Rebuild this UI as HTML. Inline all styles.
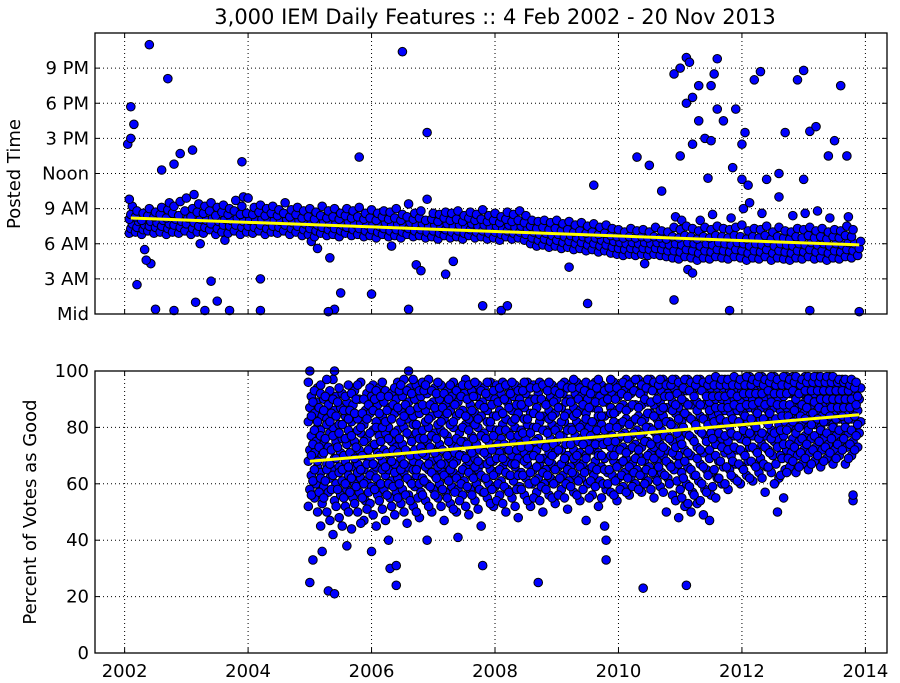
<!DOCTYPE html>
<html><head><meta charset="utf-8"><style>
html,body{margin:0;padding:0;background:#fff;}
svg{display:block;font-family:"DejaVu Sans","Liberation Sans",sans-serif;}
</style></head><body>
<svg id="chart" width="900" height="683" viewBox="0 0 900 683">
<text x="495" y="24" text-anchor="middle" font-size="21">3,000 IEM Daily Features :: 4 Feb 2002 - 20 Nov 2013</text>
<text transform="translate(20,174) rotate(-90)" text-anchor="middle" font-size="18">Posted Time</text>
<text transform="translate(36,512) rotate(-90)" text-anchor="middle" font-size="18">Percent of Votes as Good</text>
<g id="top"></g>
<g id="bot"></g>
</svg>
<script>
const xTicks=[2002,2004,2006,2008,2010,2012,2014];
const topTickVals=[0,3,6,9,12,15,18,21];
const topTickLabels=["Mid","3 AM","6 AM","9 AM","Noon","3 PM","6 PM","9 PM"];
const botTickVals=[0,20,40,60,80,100];
const botTickLabels=["0","20","40","60","80","100"];
const topTrend=[[2002.1,8.2],[2013.9,5.9]];
const botTrend=[[2005.0,68],[2013.9,84.5]];
const topBand=[
[2002.1,[6.9,7.3,7.7,8.1,8.5,9.2,9.8]],[2002.2,[7.0,7.4,7.9,8.3,8.8]],[2002.3,[6.8,7.2,7.6,8.0,8.6,5.5]],[2002.4,[7.1,7.5,7.9,8.4,9.0,4.3]],
[2002.5,[6.9,7.4,7.8,8.3,8.7]],[2002.6,[7.0,7.5,8.0,8.5,9.1]],[2002.7,[6.8,7.3,7.7,8.2,8.9,9.5]],[2002.8,[7.0,7.6,8.1,8.6,9.2]],
[2002.9,[6.9,7.4,7.9,8.4,9.6]],[2003.0,[7.1,7.7,8.2,8.8,9.9]],[2003.1,[6.8,7.3,7.8,8.3,9.0,10.2]],[2003.2,[7.0,7.5,8.1,8.7,9.4,6.0]],
[2003.3,[6.9,7.4,8.0,8.6,9.2]],[2003.4,[7.2,7.7,8.2,8.8,9.5]],[2003.5,[6.8,7.3,7.9,8.4,9.1]],[2003.6,[7.0,7.6,8.1,8.7,9.3,6.3]],
[2003.7,[6.9,7.5,8.0,8.5,9.0]],[2003.8,[7.1,7.6,8.2,8.8,9.7]],[2003.9,[6.8,7.4,7.9,8.5,9.2,10.0]],[2004.0,[7.0,7.5,8.0,8.6,9.9]],
[2004.1,[6.9,7.4,8.0,8.5,9.1]],[2004.2,[7.1,7.6,8.1,8.7,9.3]],[2004.3,[6.8,7.3,7.9,8.4,9.0]],[2004.4,[7.0,7.5,8.0,8.6,9.2]],
[2004.5,[6.9,7.4,7.9,8.4,8.9]],[2004.6,[7.1,7.6,8.1,8.6,9.5]],[2004.7,[6.8,7.3,7.8,8.3,8.9]],[2004.8,[7.0,7.5,8.0,8.5,9.1]],
[2004.9,[6.7,7.2,7.7,8.2,8.8]],[2005.0,[6.8,7.3,7.8,8.3,9.0,6.2]],[2005.1,[6.6,7.1,7.6,8.1,8.7,5.6]],[2005.2,[6.9,7.4,7.9,8.4,9.2]],
[2005.3,[6.7,7.2,7.7,8.2,8.8,4.8]],[2005.4,[6.8,7.3,7.8,8.3,9.0]],[2005.5,[6.6,7.1,7.6,8.1,8.6]],[2005.6,[6.9,7.4,7.9,8.4,9.0]],
[2005.7,[6.7,7.2,7.7,8.2,8.8]],[2005.8,[6.8,7.3,7.8,8.3,9.1]],[2005.9,[6.6,7.1,7.6,8.1,8.6]],[2006.0,[6.7,7.2,7.7,8.2,8.9]],
[2006.1,[6.5,7.0,7.5,8.0,8.6]],[2006.2,[6.8,7.3,7.8,8.3,8.8]],[2006.3,[6.6,7.1,7.6,8.1,8.7,5.8]],[2006.4,[6.7,7.2,7.7,8.2,9.0]],
[2006.5,[6.5,7.0,7.5,8.0,8.5]],[2006.6,[6.8,7.3,7.8,8.3,9.4]],[2006.7,[6.6,7.1,7.6,8.1,8.6,4.2]],[2006.8,[6.7,7.2,7.7,8.2,8.8]],
[2006.9,[6.5,7.0,7.5,8.0,9.8]],[2007.0,[6.6,7.1,7.6,8.1,8.6]],[2007.1,[6.4,6.9,7.4,7.9,8.5]],[2007.2,[6.7,7.2,7.7,8.2,8.7]],
[2007.3,[6.5,7.0,7.5,8.0,8.6,4.5]],[2007.4,[6.6,7.1,7.6,8.1,8.8]],[2007.5,[6.4,6.9,7.4,7.9,8.4]],[2007.6,[6.7,7.2,7.7,8.2,8.7]],
[2007.7,[6.5,7.0,7.5,8.0,8.5]],[2007.8,[6.6,7.1,7.6,8.1,8.9]],[2007.9,[6.4,6.9,7.4,7.9,8.4]],[2008.0,[6.5,7.0,7.5,8.0,8.6]],
[2008.1,[6.3,6.8,7.3,7.8,8.3]],[2008.2,[6.6,7.1,7.6,8.1,8.7]],[2008.3,[6.4,6.9,7.4,7.9,8.5]],[2008.4,[6.5,7.0,7.5,8.0,8.8]],
[2008.5,[6.3,6.8,7.3,7.8,8.4]],[2008.6,[6.0,6.5,7.0,7.5,8.0]],[2008.7,[5.8,6.3,6.8,7.3,7.9]],[2008.8,[5.9,6.4,6.9,7.4,8.0]],
[2008.9,[5.7,6.2,6.7,7.2,7.8]],[2009.0,[5.8,6.3,6.8,7.3,8.0]],[2009.1,[5.6,6.1,6.6,7.1,7.7]],[2009.2,[5.7,6.2,6.7,7.2,7.9]],
[2009.3,[5.5,6.0,6.5,7.0,7.6]],[2009.4,[5.6,6.1,6.6,7.1,7.8]],[2009.5,[5.4,5.9,6.4,6.9,7.5]],[2009.6,[5.5,6.0,6.5,7.0,7.7]],
[2009.7,[5.3,5.8,6.3,6.8,7.4]],[2009.8,[5.4,5.9,6.4,6.9,7.6]],[2009.9,[5.2,5.7,6.2,6.7,7.3]],[2010.0,[5.1,5.6,6.1,6.6,7.2]],
[2010.1,[5.0,5.5,6.0,6.5,7.0]],[2010.2,[5.1,5.6,6.1,6.6,7.3]],[2010.3,[5.0,5.5,6.0,6.5,7.1]],[2010.4,[5.1,5.6,6.1,6.6,7.2,4.3]],
[2010.5,[5.0,5.5,6.0,6.5,7.0]],[2010.6,[5.1,5.6,6.1,6.6,7.4]],[2010.7,[5.0,5.5,6.0,6.5,7.1]],[2010.8,[4.9,5.4,5.9,6.4,7.0]],
[2010.9,[4.8,5.4,6.0,6.6,7.4,8.3]],[2011.0,[4.7,5.3,5.9,6.5,7.2,8.0]],[2011.1,[4.9,5.5,6.1,6.7,7.5,3.8]],[2011.2,[4.8,5.4,6.0,6.6,7.3]],
[2011.3,[4.6,5.2,5.8,6.4,7.1,8.0]],[2011.4,[4.8,5.4,6.0,6.6,7.4]],[2011.5,[4.7,5.3,5.9,6.5,7.2,8.5]],[2011.6,[4.9,5.5,6.1,6.7,7.5]],
[2011.7,[4.8,5.4,6.0,6.6,7.3]],[2011.8,[4.7,5.3,5.9,6.5,7.2,8.2]],[2011.9,[4.9,5.5,6.1,6.7,7.4]],[2012.0,[4.8,5.4,6.0,6.6,7.6,9.0]],
[2012.1,[4.6,5.2,5.8,6.4,7.1,9.5]],[2012.2,[4.8,5.4,6.0,6.6,7.3]],[2012.3,[4.7,5.3,5.9,6.5,7.2,8.6]],[2012.4,[4.9,5.5,6.1,6.7,7.5]],
[2012.5,[4.6,5.2,5.8,6.4,7.0]],[2012.6,[4.8,5.4,6.0,6.6,7.4]],[2012.7,[4.7,5.3,5.9,6.5,7.1]],[2012.8,[4.6,5.2,5.8,6.4,7.0,8.4]],
[2012.9,[4.8,5.4,6.0,6.6,7.3]],[2013.0,[4.7,5.3,5.9,6.5,7.2,8.6]],[2013.1,[4.9,5.5,6.1,6.7,7.4]],[2013.2,[4.7,5.3,5.9,6.5,7.1,8.8]],
[2013.3,[4.8,5.4,6.0,6.6,7.3]],[2013.4,[4.6,5.2,5.8,6.4,7.0,8.2]],[2013.5,[4.8,5.4,6.0,6.6,7.2]],[2013.6,[4.7,5.3,5.9,6.5,7.1]],
[2013.7,[4.9,5.5,6.1,6.7,7.5,8.3]],[2013.8,[4.8,5.4,6.0,6.6,7.2]],[2013.9,[5.0,5.6,6.2]]
];
const topOutX=[2002.05,2002.1,2002.15,2002.1,2002.4,2002.7,2002.9,2003.1,2003.15,2003.5,2003.3,2002.5,2002.8,2002.35,2002.2,2003.9,2003.7,2004.2,2004.2,2003.4,2002.6,2002.8,2006.5,2005.8,2006.0,2005.5,2005.4,2005.3,2006.9,2006.6,2006.8,2007.2,2007.8,2008.1,2008.2,2009.5,2009.6,2009.2,2010.3,2010.5,2010.7,2010.9,2011.0,2011.1,2011.15,2011.2,2011.3,2011.0,2011.1,2011.2,2011.3,2011.4,2011.5,2011.55,2011.6,2011.6,2011.45,2011.5,2011.7,2011.8,2011.2,2010.9,2011.85,2011.9,2012.0,2012.05,2012.0,2012.2,2012.3,2012.4,2012.1,2012.6,2012.7,2012.9,2013.0,2013.1,2013.2,2013.4,2013.5,2013.6,2013.7,2013.9,2013.1,2012.6,2013.0];
const topOutY=[14.5,17.7,16.2,15.0,23.0,20.1,13.7,14.0,1.0,1.1,0.3,0.4,0.3,4.6,2.5,13.0,0.3,0.3,3.0,2.8,12.3,12.8,22.4,13.4,1.7,1.8,0.4,0.2,15.5,0.4,3.7,3.4,0.7,0.3,0.7,0.9,11.0,4.0,13.4,12.7,10.5,20.5,21.0,21.9,21.5,18.5,19.5,13.5,18.0,14.5,16.5,15.0,19.5,20.5,21.8,17.5,11.6,14.8,16.5,0.3,3.5,1.2,12.5,17.5,14.5,15.5,11.5,20.0,20.7,11.5,11.0,12.0,15.5,20.0,20.8,15.6,16.0,13.5,14.8,19.5,13.5,0.2,0.3,10.0,11.5];
const botBand=[
[2005.0,[52,58,63,68,72,77,82,87,91,96]],[2005.1,[55,60,66,71,75,80,85,89,94]],[2005.2,[45,53,59,64,70,74,79,84,90,95]],[2005.3,[50,57,62,67,73,78,83,88,93]],
[2005.4,[42,54,60,65,69,75,80,86,91,97]],[2005.5,[48,56,61,66,71,76,81,87,92]],[2005.6,[52,58,63,68,74,79,84,89,95]],[2005.7,[44,55,60,66,70,75,82,88,93]],
[2005.8,[50,57,62,67,72,78,83,90,96]],[2005.9,[47,54,61,65,70,76,81,86,92]],[2006.0,[53,59,64,69,73,79,85,91,95]],[2006.1,[45,56,60,66,71,77,82,88,94]],
[2006.2,[51,58,63,68,72,78,84,89,93]],[2006.3,[40,55,61,65,70,75,80,87,92]],[2006.4,[49,57,62,67,73,79,85,90,96]],[2006.5,[53,58,64,69,74,80,86,91,97]],
[2006.6,[46,56,61,66,71,77,83,89,94]],[2006.7,[52,59,63,68,72,78,84,90,95]],[2006.8,[48,57,62,67,73,79,85,91,96]],[2006.9,[54,60,65,70,75,80,86,92,97]],
[2007.0,[50,58,63,68,72,78,84,89,94]],[2007.1,[55,60,65,69,74,79,85,90,95]],[2007.2,[47,57,62,67,71,77,83,88,93]],[2007.3,[53,59,64,69,74,80,86,91,96]],
[2007.4,[50,58,63,68,73,78,84,89,94]],[2007.5,[56,61,66,70,75,81,86,92,97]],[2007.6,[49,58,63,68,72,77,83,88,93]],[2007.7,[54,60,65,69,74,80,85,91,95]],
[2007.8,[45,57,62,67,72,78,84,89,94]],[2007.9,[55,60,65,70,75,80,86,91,96]],[2008.0,[52,59,64,68,73,79,84,90,95]],[2008.1,[56,61,66,71,76,81,86,92,96]],
[2008.2,[50,58,63,68,72,78,83,89,94]],[2008.3,[55,61,66,70,75,80,86,91,95]],[2008.4,[48,59,64,69,74,79,85,90,94]],[2008.5,[56,62,67,71,76,81,87,92,96]],
[2008.6,[52,60,65,70,74,80,85,90,95]],[2008.7,[57,62,67,72,76,82,87,92,96]],[2008.8,[50,60,65,69,74,79,84,89,94]],[2008.9,[56,62,67,71,76,81,86,91,95]],
[2009.0,[53,61,66,71,75,80,85,90,94]],[2009.1,[58,63,68,72,77,82,87,92,96]],[2009.2,[51,61,66,70,75,80,85,90,95]],[2009.3,[57,63,68,72,77,82,87,92,96]],
[2009.4,[54,62,67,71,76,81,86,91,95]],[2009.5,[47,60,65,70,75,80,85,90,94]],[2009.6,[56,63,68,72,77,82,87,92,96]],[2009.7,[52,61,66,71,76,81,86,91,95]],
[2009.8,[45,58,64,69,74,79,84,89,94]],[2009.9,[57,63,68,73,77,82,87,92,96]],[2010.0,[54,62,67,72,76,81,86,91,95]],[2010.1,[59,64,69,73,78,83,88,93,97]],
[2010.2,[56,62,67,72,77,82,87,92,96]],[2010.3,[60,65,70,74,79,84,88,93,97]],[2010.4,[57,63,68,73,78,83,88,92,96]],[2010.5,[61,66,71,75,80,85,89,94,97]],
[2010.6,[55,63,68,73,78,83,88,93,96]],[2010.7,[59,64,70,74,79,84,89,93,97]],[2010.8,[50,62,67,72,77,82,87,92,96]],[2010.9,[56,65,70,75,80,85,89,94,97]],
[2011.0,[48,58,64,70,76,82,87,92,96]],[2011.1,[52,60,66,72,78,84,89,93,97]],[2011.2,[50,57,63,70,76,82,88,93,96]],[2011.3,[53,61,67,73,79,84,89,94,97]],
[2011.4,[49,58,65,71,77,83,88,93,96]],[2011.5,[47,56,64,72,78,84,89,94,97]],[2011.6,[55,62,68,74,80,85,90,94,97]],[2011.7,[60,66,71,76,81,86,90,94,97]],
[2011.8,[58,65,70,75,80,85,89,93,96]],[2011.9,[62,67,72,77,82,86,90,94,97]],[2012.0,[60,66,71,76,81,85,89,93,97]],[2012.1,[63,68,73,78,82,87,91,95,98]],
[2012.2,[61,67,72,77,81,86,90,94,97]],[2012.3,[64,69,74,78,83,87,91,95,98]],[2012.4,[57,66,72,77,82,86,90,94,97]],[2012.5,[64,70,75,79,83,87,91,95,98]],
[2012.6,[50,62,70,76,81,86,90,94,97]],[2012.7,[55,65,72,77,82,87,91,95,98]],[2012.8,[66,71,76,80,84,88,92,95,98]],[2012.9,[64,70,75,79,83,87,91,94,97]],
[2013.0,[67,72,77,81,85,89,92,95,98]],[2013.1,[65,71,76,80,84,88,91,94,97]],[2013.2,[68,73,77,81,85,89,92,95,98]],[2013.3,[66,72,76,80,84,88,92,95,97]],
[2013.4,[69,74,78,82,86,89,92,95,98]],[2013.5,[67,72,77,81,85,88,91,94,97]],[2013.6,[70,75,79,83,86,89,92,95,97]],[2013.7,[67,73,78,82,86,89,92,94,96]],
[2013.8,[70,75,79,83,86,89,92,95]],[2013.9,[73,78,82,86,90,94]]
];
const botBand2=[
[2005.05,[56,61,65,70,74,79,84,89,93]],[2005.15,[50,57,62,68,73,77,82,87,92]],[2005.25,[55,61,65,71,76,81,86,91,97]],[2005.35,[47,58,63,67,72,77,82,85,90]],
[2005.45,[52,58,64,69,73,78,84,89,94]],[2005.55,[45,55,60,65,70,76,81,86,91]],[2005.65,[50,57,62,66,71,77,83,86,92]],[2005.75,[53,59,64,69,73,79,85,90,95]],
[2005.85,[46,55,60,65,70,75,80,85,90]],[2005.95,[51,57,63,67,72,78,83,88,94]],[2006.05,[49,58,62,67,74,80,86,90,93]],[2006.15,[54,60,65,70,75,80,85,91,96]],
[2006.25,[47,56,60,66,71,76,82,86,91]],[2006.35,[52,59,64,68,72,78,83,88,94]],[2006.45,[55,60,65,71,76,82,87,93,95]],[2006.55,[50,56,62,67,72,78,84,88,93]],
[2006.65,[54,60,65,70,75,81,86,92,97]],[2006.75,[50,55,60,65,70,76,81,87,93]],[2006.85,[56,61,66,71,76,82,88,93,95]],[2006.95,[52,59,64,67,73,77,83,88,93]],
[2007.05,[56,62,66,71,76,81,87,92,96]],[2007.15,[52,58,63,67,72,78,82,87,92]],[2007.25,[55,61,65,70,75,81,85,90,95]],[2007.35,[51,57,62,67,71,76,82,88,93]],
[2007.45,[54,60,65,70,75,80,85,91,95]],[2007.55,[52,59,64,69,74,79,84,90,95]],[2007.65,[56,62,66,71,76,81,86,91,96]],[2007.75,[51,58,63,68,72,77,83,88,93]],
[2007.85,[57,62,67,71,76,82,87,92,96]],[2007.95,[53,58,63,68,72,77,82,88,93]],[2008.05,[54,60,65,69,74,79,84,89,94]],[2008.15,[53,59,64,69,74,79,85,90,95]],
[2008.25,[57,63,67,72,77,82,87,92,96]],[2008.35,[52,58,63,67,72,77,83,88,93]],[2008.45,[58,63,68,73,78,83,88,93,96]],[2008.55,[54,60,64,69,73,78,83,89,94]],
[2008.65,[55,61,66,70,75,80,85,90,94]],[2008.75,[54,59,64,69,74,79,84,90,95]],[2008.85,[58,63,68,73,78,83,88,93,96]],[2008.95,[55,60,65,70,74,79,84,89,93]],
[2009.05,[56,62,67,72,77,82,87,92,95]],[2009.15,[55,60,65,69,74,79,84,89,94]],[2009.25,[59,64,69,74,79,84,89,94,97]],[2009.35,[56,61,66,70,75,80,85,90,94]],
[2009.45,[58,64,69,74,78,83,88,93,96]],[2009.55,[55,61,66,72,77,82,87,92,95]],[2009.65,[59,65,70,74,79,84,89,94,97]],[2009.75,[55,60,65,70,74,79,84,89,93]],
[2009.85,[60,65,70,75,80,85,90,94,97]],[2009.95,[56,61,66,70,75,80,85,90,94]],[2010.05,[58,63,68,72,77,82,87,92,96]],[2010.15,[57,62,66,71,76,81,86,91,95]],
[2010.25,[59,64,69,73,78,83,88,93,97]],[2010.35,[58,63,68,72,77,82,87,92,95]],[2010.45,[60,65,70,75,80,85,90,94,97]],[2010.55,[58,64,69,74,79,84,89,93,96]],
[2010.65,[61,66,71,76,81,86,90,95,97]],[2010.75,[57,63,68,73,77,82,87,91,95]],[2010.85,[60,66,71,76,81,86,91,95,97]],[2010.95,[54,61,67,73,78,83,88,92,96]],
[2011.05,[55,62,68,74,80,85,90,94,97]],[2011.15,[53,59,65,71,77,83,88,93,96]],[2011.25,[56,63,69,75,81,86,91,95,97]],[2011.35,[54,60,66,72,78,83,88,93,96]],
[2011.45,[57,63,69,75,81,86,91,95,97]],[2011.55,[59,65,70,76,82,87,91,95,98]],[2011.65,[62,68,73,78,83,87,91,95,97]],[2011.75,[60,66,72,77,82,87,91,95,97]],
[2011.85,[63,68,73,78,83,88,92,95,98]],[2011.95,[61,67,72,77,82,87,91,95,97]],[2012.05,[65,70,75,79,84,88,92,95,98]],[2012.15,[62,68,73,78,83,88,92,95,97]],
[2012.25,[66,71,76,80,85,89,92,96,98]],[2012.35,[62,67,73,78,83,88,92,95,97]],[2012.45,[66,71,76,81,85,89,93,96,98]],[2012.55,[60,67,73,78,83,88,92,95,97]],
[2012.65,[63,69,74,79,84,88,92,95,98]],[2012.75,[64,69,74,79,84,88,92,95,97]],[2012.85,[68,73,78,82,86,90,93,96,98]],[2012.95,[66,71,76,80,84,88,92,95,97]],
[2013.05,[69,74,79,83,87,90,93,96,98]],[2013.15,[67,72,77,81,85,89,93,96,98]],[2013.25,[70,75,79,83,87,90,93,96,98]],[2013.35,[68,73,78,82,86,90,93,96,98]],
[2013.45,[71,76,80,84,87,90,93,96,98]],[2013.55,[69,74,79,83,87,90,93,96,97]],[2013.65,[72,76,80,84,87,90,93,96,97]],[2013.75,[69,74,79,83,87,90,93,95,97]],
[2013.85,[72,77,81,84,88,91,94,96]]
];
const botOutX=[2005.0,2005.05,2005.2,2005.3,2005.4,2006.3,2006.4,2006.4,2007.8,2008.7,2009.8,2009.8,2010.4,2011.1,2013.8,2013.8,2005.0,2005.4,2006.6,2005.6,2006.0,2006.9,2007.4];
const botOutY=[25,33,36,22,21,30,24,31,31,25,33,40,23,24,54,56,100,100,100,38,36,40,41];

const NS="http://www.w3.org/2000/svg";
const L=95,R=887,X0=2001.52,X1=2014.35;
const xs=v=>L+(v-X0)/(X1-X0)*(R-L);
const topT=33,topB=314,botT=371,botB=653;
const ysTop=v=>topB-v/24*(topB-topT);
const ysBot=v=>botB-v/100*(botB-botT);
function mk(tag,attrs,parent){const e=document.createElementNS(NS,tag);for(const k in attrs)e.setAttribute(k,attrs[k]);parent.appendChild(e);return e;}

function panel(g,T,B,ys,tickVals,tickLabels,showX,bands,ox,oy,trend,prefix){
  xTicks.forEach(t=>{const x=xs(t);if(x>L&&x<R){const l=mk('line',{x1:x,x2:x,y1:T,y2:B,stroke:'#000','stroke-dasharray':'1,3','stroke-width':1},g);
    
    }});
  tickVals.forEach(v=>{const y=ys(v);if(y>T+1&&y<B-1){const l=mk('line',{x1:L,x2:R,y1:y,y2:y,stroke:'#000','stroke-dasharray':'1,3','stroke-width':1},g);
    
    }});
  const pts=mk('g',{fill:'#0000ff',stroke:'#000','stroke-width':1},g);
  
  
  bands.forEach(band=>band.forEach(s=>s[1].forEach((v,j)=>{const c=mk('circle',{cx:xs(s[0])+((j%3)-1)*1.5,cy:ys(v),r:4.3},pts);
    
    })));
  ox.forEach((xv,i)=>{const c=mk('circle',{cx:xs(xv),cy:ys(oy[i]),r:4.3},pts);
    
    });
  const tl=mk('line',{x1:xs(trend[0][0]),y1:ys(trend[0][1]),x2:xs(trend[1][0]),y2:ys(trend[1][1]),stroke:'#ffff00','stroke-width':3},g);
  
  
  const f=mk('rect',{x:L,y:T,width:R-L,height:B-T,fill:'none',stroke:'#000','stroke-width':1.3},g);
  
  
  tickVals.forEach((v,i)=>{const y=ys(v);
    mk('line',{x1:L,x2:L+5,y1:y,y2:y,stroke:'#000'},g);mk('line',{x1:R-5,x2:R,y1:y,y2:y,stroke:'#000'},g);
    const t=mk('text',{x:L-6,y:y+6,'text-anchor':'end','font-size':18},g);t.textContent=tickLabels[i];
    
    });
  xTicks.forEach(tv=>{const x=xs(tv);mk('line',{x1:x,x2:x,y1:B,y2:B-5,stroke:'#000'},g);mk('line',{x1:x,x2:x,y1:T,y2:T+5,stroke:'#000'},g);
    if(showX){const t=mk('text',{x:x,y:B+24,'text-anchor':'middle','font-size':18},g);t.textContent=String(tv);
      
      }});
}
panel(document.getElementById('top'),topT,topB,ysTop,topTickVals,topTickLabels,false,[topBand],topOutX,topOutY,topTrend,'top');
panel(document.getElementById('bot'),botT,botB,ysBot,botTickVals,botTickLabels,true,[botBand,botBand2],botOutX,botOutY,botTrend,'bottom');
</script>
</body></html>
